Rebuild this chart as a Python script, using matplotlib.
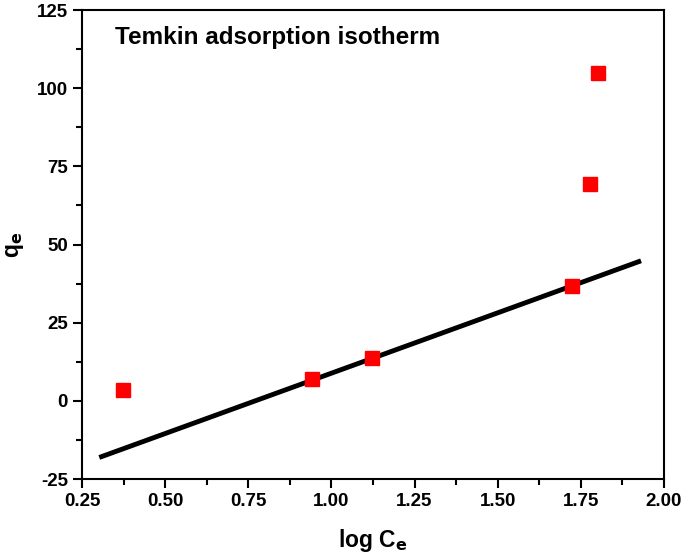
import matplotlib
matplotlib.use("Agg")
import matplotlib.pyplot as plt
from matplotlib.ticker import MultipleLocator, FormatStrFormatter

plt.rcParams["font.family"] = ["Liberation Sans", "DejaVu Sans"]
plt.rcParams["font.weight"] = "bold"
plt.rcParams["axes.unicode_minus"] = False

# experimental points
log_ce = [0.373, 0.941, 1.122, 1.724, 1.777, 1.803]
qe = [3.6, 6.9, 13.8, 36.9, 69.4, 104.9]

# linear fit line (endpoints)
fit_x = [0.302, 1.931]
fit_y = [-18.1, 44.8]

fig = plt.figure(figsize=(6.85, 5.6), dpi=100)
ax = fig.add_axes([0.1197, 0.1446, 0.8496, 0.8374])

ax.plot(fit_x, fit_y, color="black", lw=3.5, solid_capstyle="butt", zorder=2)
ax.plot(log_ce, qe, "s", color="#ff0000", ms=10.5, mec="#ff0000", zorder=3)

ax.set_xlim(0.25, 2.0)
ax.set_ylim(-25, 125)
ax.xaxis.set_major_locator(MultipleLocator(0.25))
ax.xaxis.set_minor_locator(MultipleLocator(0.125))
ax.yaxis.set_major_locator(MultipleLocator(25))
ax.yaxis.set_minor_locator(MultipleLocator(12.5))
ax.xaxis.set_major_formatter(FormatStrFormatter("%.2f"))

for s in ax.spines.values():
    s.set_linewidth(1.5)
ax.tick_params(which="major", direction="out", length=6.5, width=1.5, labelsize=13.5)
ax.tick_params(which="minor", direction="out", length=4, width=1.5)
ax.tick_params(axis="x", which="both", top=False)
ax.tick_params(axis="y", which="both", right=False)

ax.set_xlabel("log C$_\\mathbf{e}$", fontsize=16.5, fontweight="bold", labelpad=12)
ax.set_ylabel("q$_\\mathbf{e}$", fontsize=16.5, fontweight="bold", labelpad=8)
ax.text(0.057, 0.965, "Temkin adsorption isotherm", transform=ax.transAxes,
        fontsize=17.5, fontweight="bold", va="top")

fig.savefig("out.png", dpi=100)
